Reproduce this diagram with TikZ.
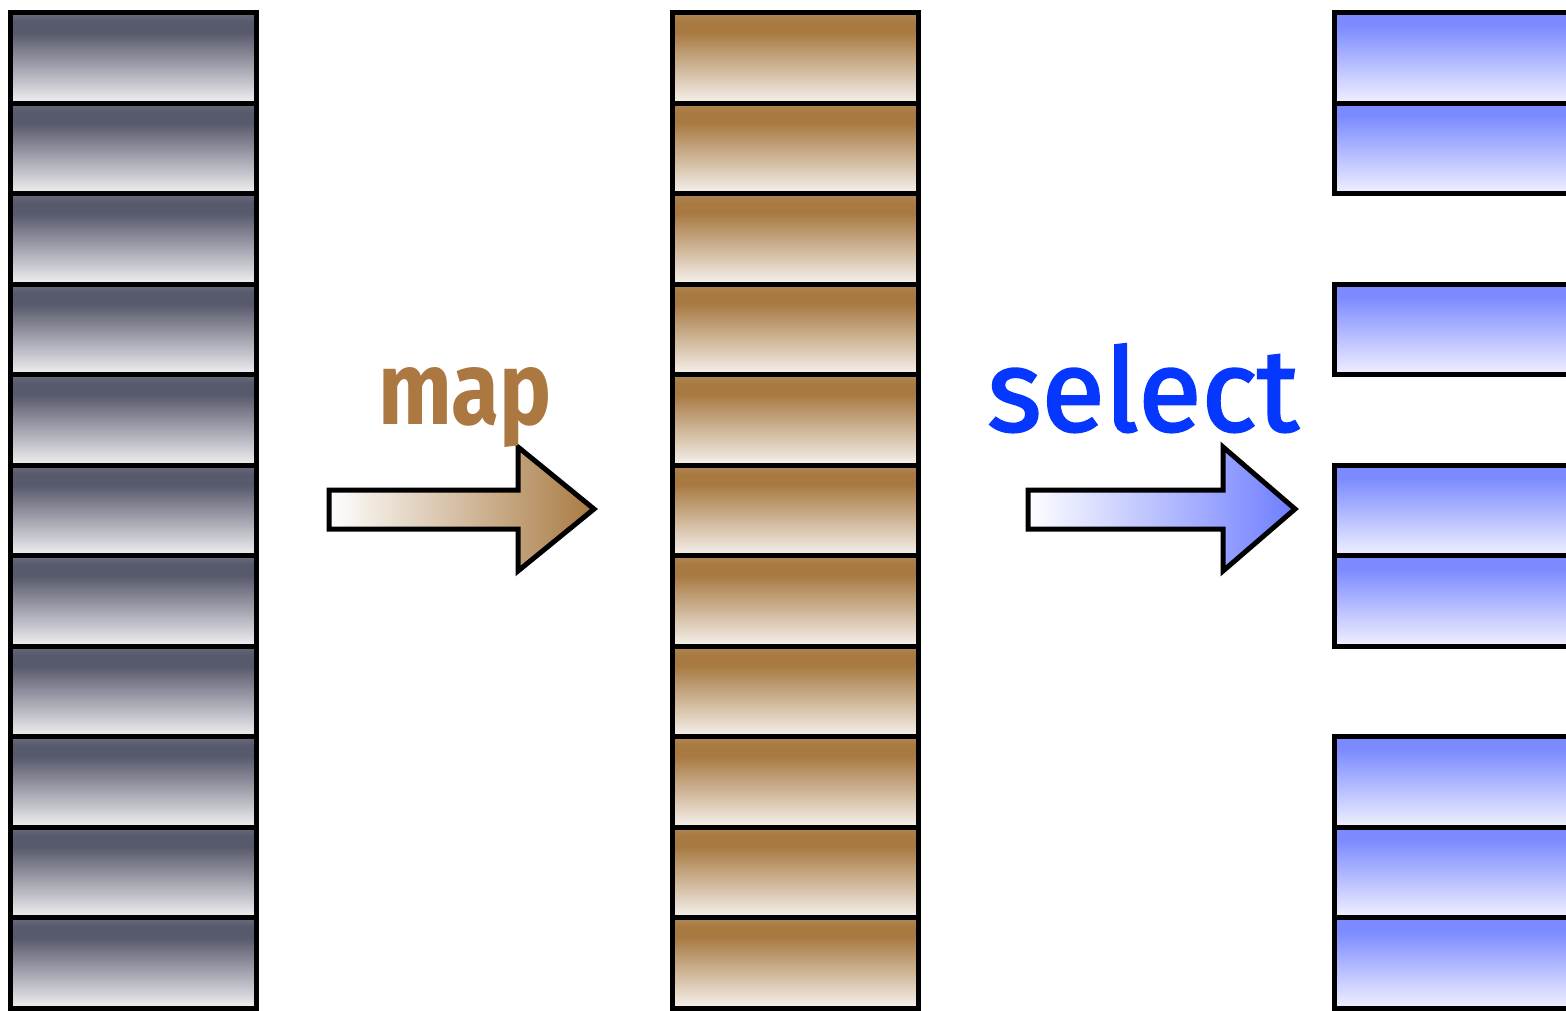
\documentclass[tikz,border=0pt]{standalone}
\usepackage{fontspec}
\setmainfont{Fira Sans}
\newfontfamily\labelfont{Fira Sans}[FakeBold=2]
\definecolor{grayD}{RGB}{87,89,108}
\definecolor{grayL}{RGB}{241,241,243}
\definecolor{brownD}{RGB}{168,122,66}
\definecolor{brownL}{RGB}{246,242,238}
\definecolor{blueD}{RGB}{123,138,255}
\definecolor{blueL}{RGB}{241,241,255}
\definecolor{mapText}{RGB}{170,120,64}
\definecolor{selText}{RGB}{5,55,255}
\definecolor{selArrow}{RGB}{110,125,255}
% vertical fills: light at the bottom, darkest a little below the top edge
\pgfdeclareverticalshading{grayrow}{100bp}{color(0bp)=(grayL); color(25bp)=(grayL); color(64bp)=(grayD); color(70bp)=(grayD); color(75bp)=(grayD!88!white); color(100bp)=(grayD!88!white)}
\pgfdeclareverticalshading{brownrow}{100bp}{color(0bp)=(brownL); color(25bp)=(brownL); color(64bp)=(brownD); color(70bp)=(brownD); color(75bp)=(brownD!90!white); color(100bp)=(brownD!90!white)}
\pgfdeclareverticalshading{bluerow}{100bp}{color(0bp)=(blueL); color(25bp)=(blueL); color(68bp)=(blueD); color(75bp)=(blueD); color(100bp)=(blueD)}
\begin{document}
\begin{tikzpicture}[x=1pt,y=-1pt,
  rowbox/.style={draw=black, line width=5pt, minimum width=246pt,
    minimum height=90.5pt, inner sep=0pt, outer sep=0pt},
  arrowshape/.style={draw=black, line width=5pt, line join=miter}]
\useasboundingbox (0,0) rectangle (1566,1010);
\clip (0,0) rectangle (1566,1010);

% source column
\foreach \i in {1,...,11}
  \node[rowbox, shading=grayrow] (g\i) at (133.6, {12.5+90.5*(\i-0.5)}) {};

% mapped column
\foreach \i in {1,...,11}
  \node[rowbox, shading=brownrow] (b\i) at (795, {12.5+90.5*(\i-0.5)}) {};

% selected rows
\foreach \i in {1,2,4,6,7,9,10,11}
  \node[rowbox, shading=bluerow] (s\i) at (1457, {12.5+90.5*(\i-0.5)}) {};

% map arrow
\draw[arrowshape, left color=white, right color=brownD]
  (329,490) -- (518,490) -- (518,447) -- (594,509) -- (518,571)
  -- (518,529) -- (329,529) -- cycle;
\node[anchor=base, text=mapText, font=\bfseries\fontsize{104}{104}\selectfont,
  inner sep=0pt] (maplabel) at (465,424) {\scalebox{0.84}[1]{map}};

% select arrow
\draw[arrowshape, left color=white, right color=selArrow]
  (1028,490) -- (1223,490) -- (1223,447) -- (1295,509) -- (1223,571)
  -- (1223,529) -- (1028,529) -- cycle;
\node[anchor=base, text=selText, font=\labelfont\fontsize{116}{116}\selectfont,
  inner sep=0pt] (sellabel) at (1143,431) {\scalebox{1.0}[1]{select}};
\end{tikzpicture}
\end{document}
